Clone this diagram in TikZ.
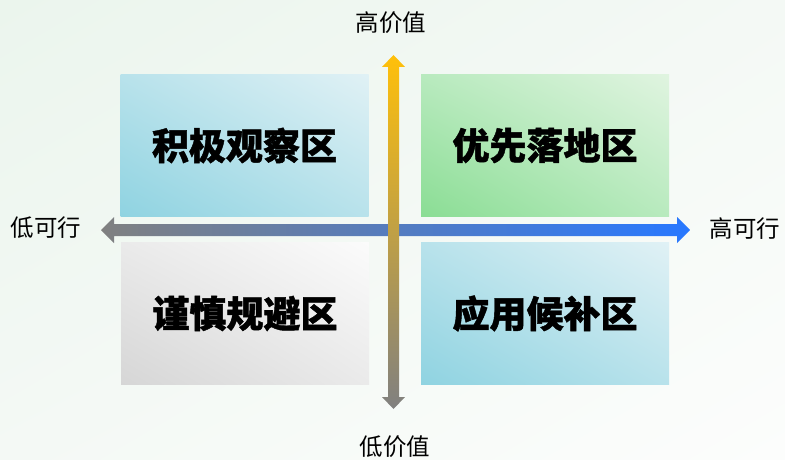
\documentclass[tikz,border=0pt]{standalone}
\usepackage{fontspec}
\usetikzlibrary{shadings}
\newfontfamily\cjk{Noto Sans CJK SC}[BoldFeatures={FakeBold=1.2}]
\definecolor{bgA}{RGB}{235,245,237}
\definecolor{bgB}{RGB}{244,249,245}
\definecolor{bgC}{RGB}{252,253,252}
\definecolor{blA}{RGB}{143,211,225}
\definecolor{blB}{RGB}{184,226,235}
\definecolor{blC}{RGB}{224,241,245}
\definecolor{grA}{RGB}{138,221,148}
\definecolor{grB}{RGB}{184,234,190}
\definecolor{grC}{RGB}{224,244,224}
\definecolor{gyA}{RGB}{214,214,214}
\definecolor{gyB}{RGB}{234,234,234}
\definecolor{gyC}{RGB}{251,251,251}
\definecolor{axGray}{RGB}{128,128,128}
\definecolor{axBlue}{RGB}{40,120,255}
\definecolor{axYellow}{RGB}{255,192,10}
\tikzset{
  quad/.style={minimum width=248pt, minimum height=142pt, inner sep=0pt,
    font=\cjk\bfseries\fontsize{37}{40}\selectfont, text=black},
  bluequad/.style={quad, shade, lower left=blA, upper right=blC, upper left=blB, lower right=blB},
  greenquad/.style={quad, shade, lower left=grA, upper right=grC, upper left=grB, lower right=grB},
  grayquad/.style={quad, shade, lower left=gyA, upper right=gyC, upper left=gyB, lower right=gyB},
  axlabel/.style={font=\cjk\fontsize{23.5}{27}\selectfont, text=black, inner sep=0pt}
}
\begin{document}
\begin{tikzpicture}[x=1pt,y=-1pt]
\useasboundingbox (0,0) rectangle (785,460);
\shade[upper left=bgA, lower right=bgC, lower left=bgB, upper right=bgB] (0,0) rectangle (785,460);

\node[bluequad]  (tl) at (244.5,145.5) {积极观察区};
\node[greenquad] (tr) at (545,145.5) {优先落地区};
\node[grayquad]  (bl) at (245,313.5) {谨慎规避区};
\node[bluequad]  (br) at (545,313.5) {应用候补区};

% horizontal axis
\coordinate (hL) at (101,230);
\coordinate (hR) at (690,230);
\shade[left color=axGray, right color=axBlue]
  (hL) -- ++(13,-13) -- ++(0,7) -- (677,224) -- (677,217) -- (hR)
  -- (677,243) -- (677,236) -- (114,236) -- (114,243) -- cycle;

% vertical axis
\coordinate (vT) at (393.5,55);
\coordinate (vB) at (393.5,409);
\shade[top color=axYellow, bottom color=axGray]
  (vT) -- (405,67) -- (399,67) -- (399,397) -- (405,397) -- (vB)
  -- (382,397) -- (388,397) -- (388,67) -- (382,67) -- cycle;

\node[axlabel] (lowF)  at (46,228) {低可行};
\node[axlabel] (highF) at (745,229) {高可行};
\node[axlabel] (highV) at (391,23) {高价值};
\node[axlabel] (lowV)  at (395,447) {低价值};
\end{tikzpicture}
\end{document}
